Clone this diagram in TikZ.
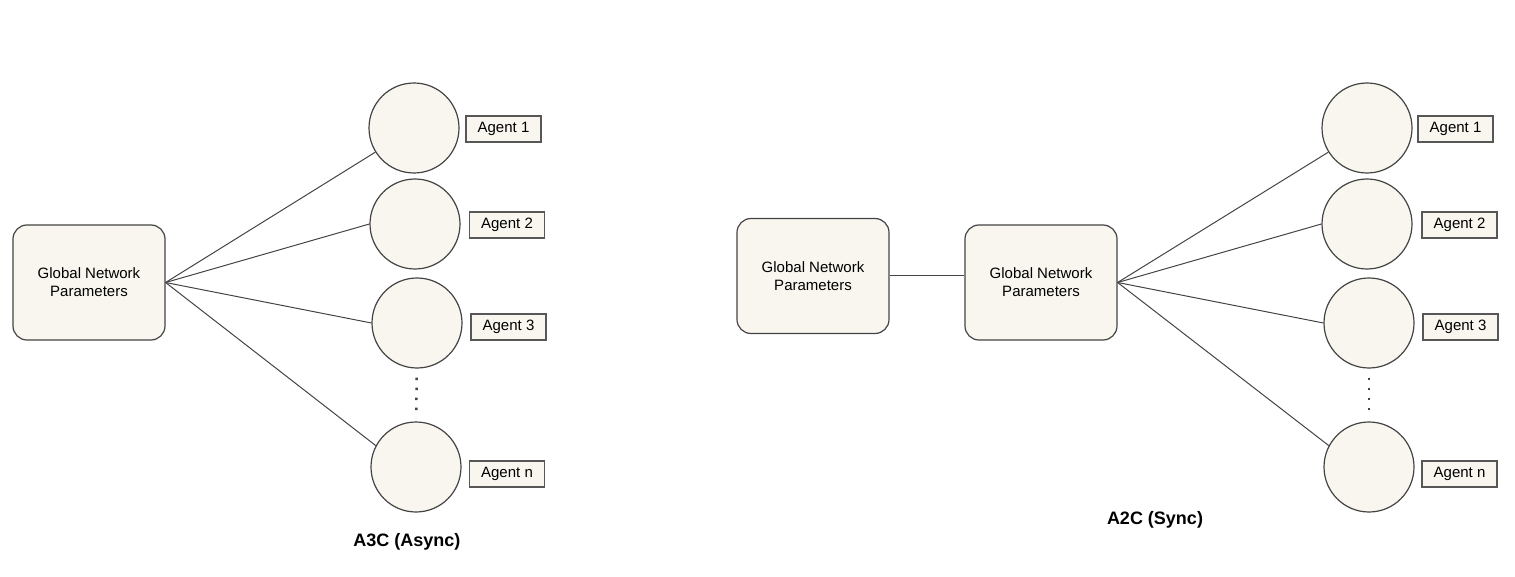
\documentclass[tikz,border=0pt]{standalone}
\usepackage{fontspec}
\setmainfont{Liberation Sans}
\usetikzlibrary{positioning}

\begin{document}
\begin{tikzpicture}[x=1pt,y=-1pt]
      \definecolor{paper}{HTML}{F8F6EE}
      \definecolor{rim}{HTML}{444444}
      \tikzset{
        params/.style={draw=rim, line width=1.2pt, fill=paper, rounded corners=14pt,
          minimum width=152pt, minimum height=115pt, align=center,
          font=\fontsize{15}{18}\selectfont},
        agent/.style={circle, draw=rim, line width=1.2pt, fill=paper, minimum size=90pt, inner sep=0pt},
        tag/.style={draw=rim!90, line width=1.1pt, fill=paper, minimum width=75pt, minimum height=26pt,
          inner sep=0pt, font=\fontsize{15}{16}\selectfont},
        link/.style={draw=rim, line width=1pt},
        more/.style={draw=rim, line width=2.5pt, dash pattern=on 2.5pt off 7.5pt},
        caption/.style={font=\bfseries\fontsize{18}{20}\selectfont}
      }
      \useasboundingbox (0,0) rectangle (1515,577);
      % A3C: one global network, agents update it asynchronously
      \node[params] (gl) at (89,282.5) {Global Network\\Parameters};
      \foreach \n/\x/\y/\lx/\ly/\a in {1/414/128/503.5/129/212, 2/415/224/507/225/180, 3/417/323/508.5/327/180, n/416/467/507/474/152} {
        \node[agent] (al\n) at (\x,\y) {};
        \node[tag] (tl\n) at (\lx,\ly) {Agent \n};
        \draw[link] (gl.east) -- (al\n.\a);
      }
      \draw[more, shorten <=9pt, shorten >=6pt] (al3) -- (aln);
      \node[caption] (c3) at (407,542) {A3C (Async)};
      % A2C: global network synced through a second copy
      \node[params] (g0) at (813,276) {Global Network\\Parameters};
      \node[params] (gr) at (1041,282.5) {Global Network\\Parameters};
      \draw[link] (g0.east) -- (g0.east -| gr.west);
      \foreach \n/\x/\y/\lx/\ly/\a in {1/1367/128/1455.5/129/212, 2/1367/224/1459.5/225/180, 3/1369/323/1460.5/327/180, n/1369/467/1459.5/474/152} {
        \node[agent] (ar\n) at (\x,\y) {};
        \node[tag] (tr\n) at (\lx,\ly) {Agent \n};
        \draw[link] (gr.east) -- (ar\n.\a);
      }
      \draw[more, shorten <=9pt, shorten >=6pt] (ar3) -- (arn);
      \node[caption] (c2) at (1155,520) {A2C (Sync)};
\end{tikzpicture}
\end{document}
